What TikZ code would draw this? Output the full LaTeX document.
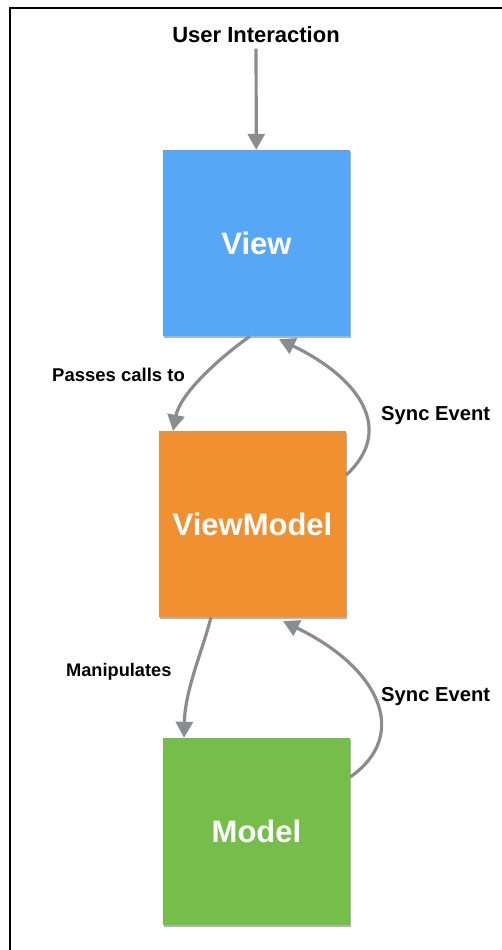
\documentclass[tikz,border=0pt]{standalone}
\usepackage{fontspec}
\setmainfont{Liberation Sans}
\usepackage{tikz}
\usepackage{xcolor}
\usetikzlibrary{positioning, arrows.meta, shadows}

\definecolor{viewblue}{HTML}{56A8F6}
\definecolor{vmorange}{HTML}{F09030}
\definecolor{modelgreen}{HTML}{75BE4A}
\definecolor{arrowgray}{HTML}{8A8C91}

\begin{document}
\begin{tikzpicture}[x=1pt, y=-1pt,
        box/.style={rectangle, minimum width=187pt, minimum height=186pt, inner sep=0pt,
            text=white, font=\fontsize{31}{31}\selectfont\bfseries,
            drop shadow={shadow xshift=0.5pt, shadow yshift=-2pt, opacity=0.3, fill=black}},
        lbl/.style={inner sep=0pt, font=\fontsize{18.5}{18.5}\selectfont\bfseries},
        conn/.style={draw=arrowgray, line width=3.2pt, -{Triangle[width=17pt, length=16pt]}}]
            \useasboundingbox (0, 0) rectangle (502, 950);
            \draw[line width=1.5pt] (10, 950) |- (502, 8);

            \node[inner sep=6pt, anchor=base, font=\fontsize{22}{22}\selectfont\bfseries] (ui) at (256, 42.3) {User Interaction};
            \node[box, fill=viewblue] (view) at (256.5, 243) {View};
            \node[box, fill=vmorange] (viewmodel) at (252.5, 524) {ViewModel};
            \node[box, fill=modelgreen, minimum height=187pt] (model) at (256.5, 831.5) {Model};

            \node[lbl, anchor=base west] (passes) at (52, 381.5) {Passes calls to};
            \node[lbl, anchor=base west, font=\fontsize{20.2}{20.2}\selectfont\bfseries] (sync1) at (381, 420.5) {Sync Event};
            \node[lbl, anchor=base west, font=\fontsize{18.2}{18.2}\selectfont\bfseries] (manip) at (66, 676) {Manipulates};
            \node[lbl, anchor=base west, font=\fontsize{20.2}{20.2}\selectfont\bfseries] (sync2) at (381, 701.5) {Sync Event};

            \draw[conn] (ui) -- (view);
            \draw[conn] ([xshift=-6.5pt]view.south) .. controls +(-35, 25) and +(7, -36) .. ([xshift=-79.5pt]viewmodel.north);
            \draw[conn] ([yshift=49pt]viewmodel.east) .. controls +(49, -45) and +(81, 39) .. ([xshift=22.5pt, yshift=-3pt]view.south);
            \draw[conn] ([xshift=-41.5pt]viewmodel.south) .. controls +(-8, 32) and +(1, -48) .. ([xshift=-72.5pt]model.north);
            \draw[conn] ([yshift=54.5pt]model.east) .. controls +(60, -42) and +(97, 47) .. ([xshift=30.5pt, yshift=-4pt]viewmodel.south);
        \end{tikzpicture}
\end{document}
